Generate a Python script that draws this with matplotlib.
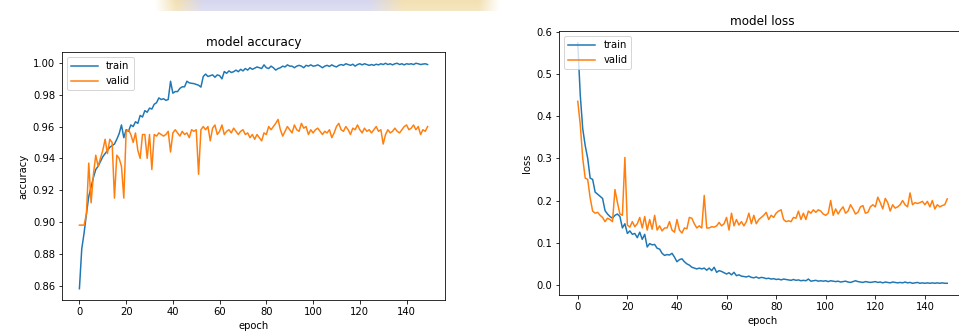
import matplotlib
matplotlib.use("Agg")
import matplotlib.pyplot as plt
import numpy as np

epochs = list(range(150))

train_acc = [
    0.858, 0.883, 0.893, 0.905, 0.916, 0.922, 0.928, 0.933, 0.935, 0.938,
    0.941, 0.943, 0.945, 0.947, 0.948, 0.949, 0.952, 0.9555, 0.961, 0.953,
    0.958, 0.957, 0.961, 0.960, 0.963, 0.962, 0.967, 0.966, 0.970, 0.969,
    0.9716, 0.971, 0.974, 0.975, 0.978, 0.977, 0.9775, 0.9765, 0.977, 0.9885,
    0.981, 0.982, 0.982, 0.984, 0.985, 0.985, 0.9885, 0.9875, 0.9872, 0.987,
    0.9865, 0.986, 0.9848, 0.9915, 0.993, 0.9915, 0.992, 0.9925, 0.991, 0.9925,
    0.992, 0.990, 0.9946, 0.9935, 0.995, 0.994, 0.9945, 0.9955, 0.9945, 0.996,
    0.995, 0.9965, 0.9955, 0.997, 0.996, 0.9967, 0.9975, 0.997, 0.9965, 0.9988,
    0.997, 0.9965, 0.998, 0.997, 0.9955, 0.9965, 0.997, 0.998, 0.9975, 0.9988,
    0.998, 0.998, 0.997, 0.998, 0.9985, 0.998, 0.997, 0.9985, 0.998, 0.9988,
    0.998, 0.9982, 0.9988, 0.998, 0.997, 0.998, 0.9985, 0.9978, 0.9988, 0.998,
    0.9975, 0.9985, 0.999, 0.9985, 0.9995, 0.999, 0.9985, 0.9992, 0.998, 0.999,
    0.9995, 0.9988, 0.9995, 0.999, 0.9985, 0.999, 0.9985, 0.9992, 0.9988, 0.9995,
    0.999, 0.9998, 0.999, 0.9995, 0.9988, 0.9995, 0.9998, 0.999, 0.9995, 0.9988,
    0.9995, 0.9992, 0.9995, 0.999, 0.9998, 0.9995, 0.999, 0.9993, 0.9995, 0.999,
]

valid_acc = [
    0.898, 0.898, 0.898, 0.905, 0.937, 0.912, 0.930, 0.942, 0.935, 0.940,
    0.945, 0.952, 0.943, 0.952, 0.950, 0.915, 0.942, 0.940, 0.935, 0.915,
    0.957, 0.958, 0.955, 0.950, 0.956, 0.945, 0.940, 0.955, 0.955, 0.940,
    0.955, 0.933, 0.955, 0.954, 0.956, 0.955, 0.954, 0.955, 0.957, 0.944,
    0.956, 0.958, 0.956, 0.954, 0.957, 0.955, 0.956, 0.953, 0.958, 0.957,
    0.958, 0.930, 0.958, 0.960, 0.958, 0.960, 0.951, 0.959, 0.961, 0.955,
    0.957, 0.961, 0.955, 0.957, 0.958, 0.956, 0.959, 0.957, 0.955, 0.957,
    0.958, 0.955, 0.956, 0.953, 0.955, 0.952, 0.955, 0.953, 0.951, 0.956,
    0.955, 0.960, 0.958, 0.960, 0.962, 0.9645, 0.958, 0.954, 0.957, 0.960,
    0.958, 0.956, 0.961, 0.958, 0.957, 0.962, 0.959, 0.960, 0.955, 0.958,
    0.956, 0.958, 0.959, 0.957, 0.955, 0.957, 0.956, 0.958, 0.953, 0.956,
    0.960, 0.962, 0.958, 0.957, 0.960, 0.958, 0.955, 0.959, 0.958, 0.961,
    0.958, 0.956, 0.959, 0.957, 0.958, 0.956, 0.958, 0.960, 0.957, 0.958,
    0.949, 0.955, 0.958, 0.956, 0.957, 0.959, 0.957, 0.956, 0.958, 0.960,
    0.961, 0.958, 0.959, 0.961, 0.958, 0.960, 0.955, 0.958, 0.957, 0.960,
]

train_loss = [
    0.573, 0.45, 0.37, 0.33, 0.30, 0.253, 0.25, 0.22, 0.215, 0.21,
    0.205, 0.176, 0.168, 0.162, 0.158, 0.165, 0.168, 0.162, 0.135, 0.145,
    0.122, 0.128, 0.120, 0.122, 0.112, 0.125, 0.108, 0.120, 0.090, 0.098,
    0.095, 0.096, 0.087, 0.085, 0.075, 0.070, 0.072, 0.071, 0.075, 0.066,
    0.055, 0.060, 0.062, 0.055, 0.050, 0.047, 0.042, 0.040, 0.038, 0.040,
    0.038, 0.040, 0.035, 0.040, 0.034, 0.042, 0.030, 0.034, 0.032, 0.029,
    0.026, 0.029, 0.024, 0.030, 0.022, 0.024, 0.021, 0.020, 0.019, 0.021,
    0.018, 0.017, 0.019, 0.016, 0.018, 0.017, 0.015, 0.016, 0.014, 0.015,
    0.013, 0.014, 0.012, 0.014, 0.013, 0.012, 0.011, 0.013, 0.011, 0.012,
    0.010, 0.011, 0.010, 0.014, 0.009, 0.010, 0.011, 0.009, 0.010, 0.009,
    0.010, 0.008, 0.010, 0.009, 0.008, 0.009, 0.007, 0.008, 0.009, 0.007,
    0.006, 0.008, 0.010, 0.008, 0.007, 0.006, 0.008, 0.007, 0.006, 0.007,
    0.008, 0.006, 0.007, 0.005, 0.007, 0.006, 0.005, 0.007, 0.006, 0.005,
    0.006, 0.005, 0.007, 0.005, 0.006, 0.004, 0.005, 0.006, 0.004, 0.005,
    0.004, 0.005, 0.004, 0.005, 0.004, 0.005, 0.004, 0.005, 0.004, 0.004,
]

valid_loss = [
    0.435, 0.38, 0.30, 0.253, 0.25, 0.206, 0.175, 0.170, 0.172, 0.165,
    0.160, 0.150, 0.158, 0.155, 0.150, 0.226, 0.195, 0.168, 0.165, 0.302,
    0.142, 0.137, 0.150, 0.138, 0.145, 0.160, 0.135, 0.162, 0.130, 0.155,
    0.132, 0.165, 0.130, 0.140, 0.128, 0.135, 0.135, 0.150, 0.130, 0.125,
    0.155, 0.130, 0.123, 0.135, 0.133, 0.160, 0.158, 0.145, 0.135, 0.140,
    0.135, 0.212, 0.135, 0.135, 0.138, 0.137, 0.140, 0.148, 0.140, 0.145,
    0.160, 0.130, 0.170, 0.140, 0.155, 0.142, 0.150, 0.140, 0.150, 0.170,
    0.145, 0.165, 0.145, 0.155, 0.160, 0.165, 0.172, 0.155, 0.165, 0.160,
    0.170, 0.175, 0.178, 0.155, 0.150, 0.152, 0.150, 0.160, 0.158, 0.175,
    0.155, 0.170, 0.155, 0.175, 0.170, 0.178, 0.172, 0.178, 0.175, 0.168,
    0.165, 0.170, 0.200, 0.165, 0.180, 0.168, 0.178, 0.185, 0.170, 0.175,
    0.190, 0.180, 0.168, 0.172, 0.185, 0.188, 0.170, 0.172, 0.185, 0.190,
    0.185, 0.208, 0.195, 0.180, 0.205, 0.195, 0.175, 0.190, 0.182, 0.185,
    0.190, 0.200, 0.190, 0.185, 0.218, 0.190, 0.195, 0.193, 0.195, 0.198,
    0.190, 0.198, 0.185, 0.200, 0.180, 0.190, 0.185, 0.188, 0.190, 0.204,
]

legend_labels = ["train", "valid"]

W, H = 959, 336
fig = plt.figure(figsize=(W / 72, H / 72), dpi=72)

def px_axes(left, top, right, bottom):
    return fig.add_axes([left / W, (H - bottom) / H, (right - left) / W, (bottom - top) / H])

ax1 = px_axes(62, 52, 445, 300)
ax1.plot(epochs, train_acc, color="#1f77b4")
ax1.plot(epochs, valid_acc, color="#ff7f0e")
ax1.set_title("model accuracy")
ax1.set_ylabel("accuracy")
ax1.set_xlabel("epoch")
ax1.legend(legend_labels, loc="upper left", handlelength=2.7)
ax1.set_xticks([0, 20, 40, 60, 80, 100, 120, 140])

ax2 = px_axes(559.3, 31, 965.7, 295.3)
ax2.plot(epochs, train_loss, color="#1f77b4")
ax2.plot(epochs, valid_loss, color="#ff7f0e")
ax2.set_title("model loss")
ax2.set_ylabel("loss")
ax2.set_xlabel("epoch")
ax2.legend(legend_labels, loc="upper left", handlelength=2.7)
ax2.set_xticks([0, 20, 40, 60, 80, 100, 120, 140])

# decorative band at the top (screenshot artifact), soft gradient
band = fig.add_axes([155 / W, (H - 11) / H, 345 / W, 11 / H])
band.axis("off")
nx = 345
beige = np.array([0.95, 0.88, 0.70])
lav = np.array([0.84, 0.84, 0.94])
white = np.array([1.0, 1.0, 1.0])
xs = np.linspace(0, 1, nx)
cols = []
for t in xs:
    if t < 0.06:
        c = white + (beige - white) * (t / 0.06)
    elif t < 0.14:
        c = beige + (lav - beige) * ((t - 0.06) / 0.08)
    elif t < 0.62:
        c = lav
    elif t < 0.72:
        c = lav + (beige - lav) * ((t - 0.62) / 0.10)
    elif t < 0.94:
        c = beige
    else:
        c = beige + (white - beige) * ((t - 0.94) / 0.06)
    cols.append(c)
img = np.array(cols)[None, :, :].repeat(11, axis=0)
fade = np.linspace(1.0, 0.8, 11)[:, None, None]
img = white + (img - white) * fade
band.imshow(img, aspect="auto", interpolation="bilinear")

fig.savefig("out.png", dpi=72)
